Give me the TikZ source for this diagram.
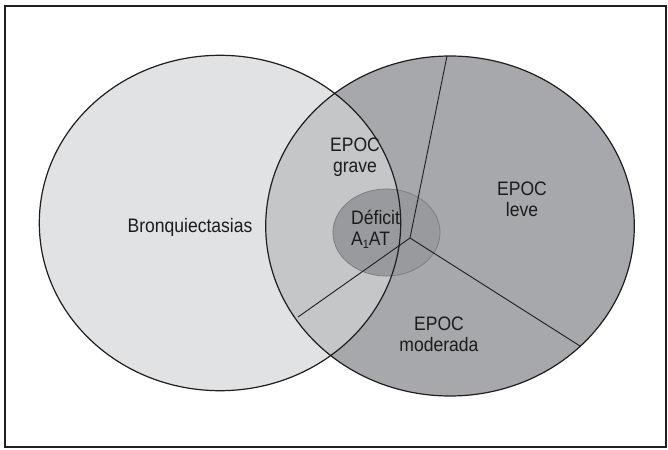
\documentclass[tikz,border=0pt]{standalone}
\usepackage{fontspec}
\setmainfont{Liberation Sans}[FakeStretch=0.9]
\definecolor{leftfill}{HTML}{E1E2E4}
\definecolor{rightfill}{HTML}{A7A8AB}
\definecolor{lensfill}{HTML}{C5C6C8}
\definecolor{smallfill}{HTML}{999A9D}
\definecolor{smalledge}{HTML}{7E7F82}
\definecolor{inkc}{HTML}{1E1E1E}
\definecolor{txtc}{HTML}{1C1C1C}
\tikzset{
  outline/.style={draw=inkc, line width=1.2pt},
  divider/.style={draw=inkc, line width=0.9pt},
  lbl/.style={text=txtc, font=\fontsize{19.5}{21}\selectfont, align=center, inner sep=0pt},
}
\begin{document}
\begin{tikzpicture}[x=1pt,y=-1pt]
\useasboundingbox (0,0) rectangle (668,449);
\draw[line width=1.3pt, draw=inkc] (5,6) rectangle (666,447);
% ellipse centres
\coordinate (cl) at (220,223);
\coordinate (cr) at (450,226);
\coordinate (cs) at (386.5,232.5);
% fills
\fill[leftfill] (cl) ellipse [x radius=180.7pt, y radius=167.7pt];
\fill[rightfill] (cr) ellipse [x radius=184.3pt, y radius=170pt];
\begin{scope}
  \clip (cl) ellipse [x radius=180.7pt, y radius=167.7pt];
  \fill[lensfill] (cr) ellipse [x radius=184.3pt, y radius=170pt];
\end{scope}
\filldraw[fill=smallfill, draw=smalledge, line width=0.8pt] (cs) ellipse [x radius=53.5pt, y radius=43.5pt];
% outlines
\draw[outline] (cl) ellipse [x radius=180.7pt, y radius=167.7pt];
\draw[outline] (cr) ellipse [x radius=184.3pt, y radius=170pt];
% dividers
\coordinate (hub) at (410,238);
\coordinate (top) at (447,56);
\coordinate (ll) at (298,317);
\coordinate (lr) at (580,346);
\draw[divider] (hub) -- (top);
\draw[divider] (hub) -- (ll);
\draw[divider] (hub) -- (lr);
% labels
\node[lbl] (bron) at (190,227) {Bronquiectasias};
\node[lbl] (grave) at (355,157) {EPOC\\grave};
\node[lbl, align=left, anchor=west] (def) at (351,229) {Déficit\\A\raisebox{-3pt}{\fontsize{12}{12}\selectfont 1}AT};
\node[lbl] (leve) at (522,199) {EPOC\\leve};
\node[lbl] (mod) at (439,334) {EPOC\\moderada};
\end{tikzpicture}
\end{document}
